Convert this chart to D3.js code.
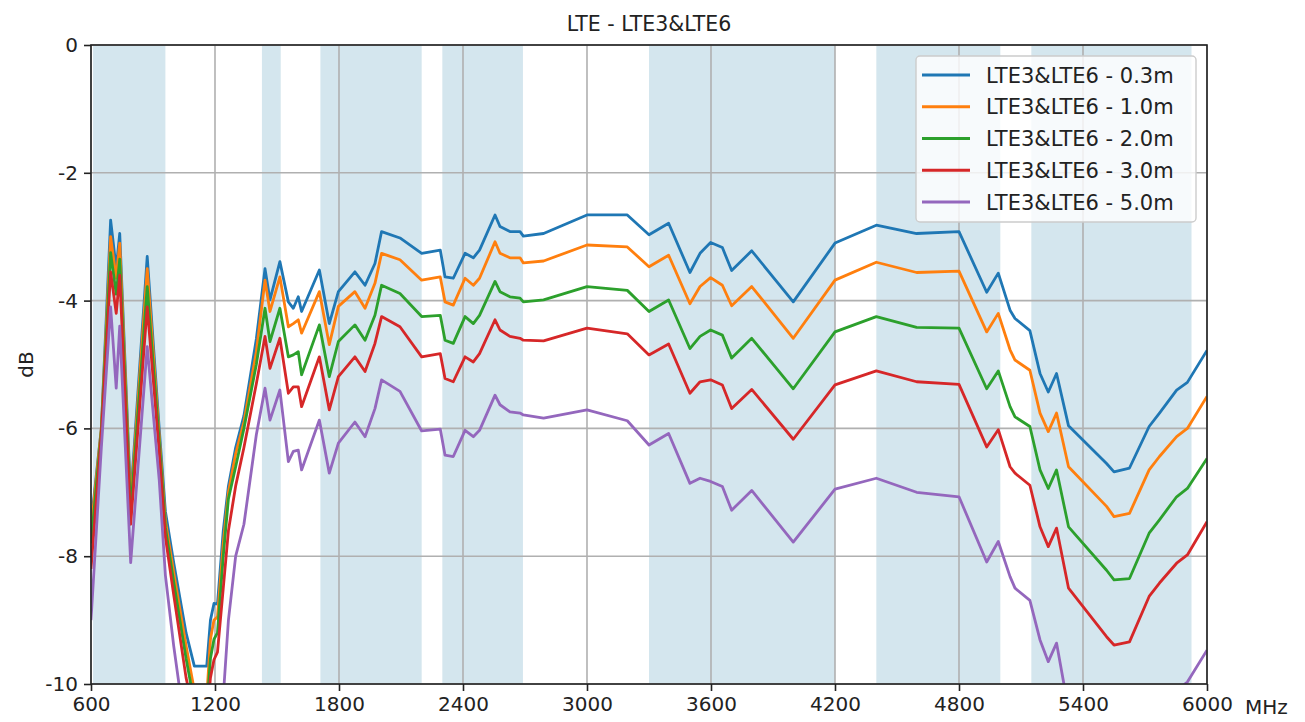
<!DOCTYPE html>
<html>
<head>
<meta charset="utf-8">
<script src="https://cdn.jsdelivr.net/npm/d3@7"></script>
<style>
  body { margin: 0; background: #fff; }
  text { font-family: "DejaVu Sans", sans-serif; fill: #222; }
</style>
</head>
<body>
<div id="chart"></div>
<script>
// frequencies (MHz) shared by all series
const freqs = [600, 650, 695, 722, 739, 792, 872, 930, 960, 1000, 1060, 1100, 1160, 1178, 1195, 1212,
  1240, 1265, 1300, 1340, 1400, 1442, 1466, 1514, 1555, 1579, 1603, 1619, 1705, 1753, 1797, 1877,
  1926, 1974, 2006, 2095, 2200, 2290, 2313, 2353, 2410, 2450, 2480, 2555, 2579, 2627, 2676, 2692,
  2790, 3000, 3195, 3300, 3395, 3498, 3547, 3598, 3655, 3700, 3797, 3998, 4200, 4400, 4595, 4800,
  4934, 4990, 5047, 5071, 5143, 5192, 5232, 5272, 5330, 5514, 5550, 5625, 5720, 5770, 5853, 5905, 6000];

const loss03 = [-7.5, -6.0, -2.74, -3.5, -2.95, -7.1, -3.31, -6.0, -7.3, -8.1, -9.2, -9.72, -9.72, -9.0, -8.74, -8.75,
  -7.6, -6.9, -6.3, -5.8, -4.6, -3.5, -3.99, -3.39, -4.02, -4.12, -3.94, -4.17, -3.52, -4.36, -3.86, -3.55,
  -3.76, -3.42, -2.92, -3.02, -3.26, -3.21, -3.63, -3.65, -3.26, -3.33, -3.21, -2.66, -2.84, -2.92, -2.92, -2.99,
  -2.95, -2.66, -2.66, -2.97, -2.79, -3.56, -3.26, -3.09, -3.17, -3.53, -3.22, -4.02, -3.10, -2.82, -2.95, -2.92,
  -3.87, -3.57, -4.15, -4.28, -4.47, -5.14, -5.43, -5.14, -5.96, -6.55, -6.68, -6.62, -5.97, -5.76, -5.40, -5.28, -4.78];

const loss10 = [-7.6, -6.0, -3.0, -3.65, -3.1, -7.2, -3.5, -6.1, -7.45, -8.25, -9.4, -10.1, -10.2, -9.3, -9.0, -8.95,
  -7.8, -7.0, -6.4, -5.9, -4.8, -3.68, -4.17, -3.63, -4.41, -4.36, -4.30, -4.51, -3.86, -4.69, -4.09, -3.86,
  -4.12, -3.73, -3.26, -3.36, -3.68, -3.63, -4.02, -4.07, -3.65, -3.76, -3.65, -3.08, -3.26, -3.33, -3.33, -3.41,
  -3.38, -3.13, -3.16, -3.47, -3.29, -4.05, -3.78, -3.64, -3.76, -4.08, -3.78, -4.59, -3.68, -3.40, -3.56, -3.54,
  -4.49, -4.20, -4.77, -4.93, -5.09, -5.76, -6.05, -5.76, -6.60, -7.22, -7.38, -7.33, -6.65, -6.44, -6.13, -6.0, -5.50];

const loss20 = [-7.8, -6.05, -3.25, -3.9, -3.35, -7.3, -3.78, -6.2, -7.55, -8.4, -9.6, -10.3, -10.4, -9.6, -9.3, -9.2,
  -8.0, -7.1, -6.6, -6.0, -5.0, -4.12, -4.64, -4.12, -4.88, -4.85, -4.80, -5.16, -4.38, -5.19, -4.64, -4.38,
  -4.62, -4.23, -3.76, -3.89, -4.25, -4.23, -4.62, -4.67, -4.25, -4.36, -4.23, -3.70, -3.86, -3.94, -3.96, -4.02,
  -3.99, -3.78, -3.84, -4.17, -3.99, -4.75, -4.56, -4.46, -4.54, -4.90, -4.59, -5.38, -4.49, -4.25, -4.42, -4.43,
  -5.38, -5.10, -5.66, -5.82, -5.97, -6.65, -6.94, -6.65, -7.54, -8.22, -8.37, -8.35, -7.64, -7.43, -7.07, -6.94, -6.47];

const loss30 = [-8.2, -6.1, -3.55, -4.2, -3.6, -7.5, -4.1, -6.35, -7.7, -8.6, -9.9, -10.5, -10.6, -9.9, -9.62, -9.5,
  -8.5, -7.6, -6.9, -6.3, -5.3, -4.56, -5.06, -4.59, -5.45, -5.35, -5.35, -5.66, -4.88, -5.71, -5.19, -4.88,
  -5.11, -4.67, -4.25, -4.41, -4.88, -4.83, -5.22, -5.27, -4.88, -4.96, -4.83, -4.30, -4.46, -4.56, -4.59, -4.62,
  -4.63, -4.43, -4.52, -4.85, -4.68, -5.45, -5.27, -5.24, -5.32, -5.69, -5.39, -6.17, -5.32, -5.10, -5.27, -5.31,
  -6.29, -6.02, -6.60, -6.70, -6.89, -7.54, -7.85, -7.56, -8.50, -9.26, -9.39, -9.34, -8.63, -8.42, -8.11, -7.98, -7.46];

const loss50 = [-9.0, -6.3, -4.1, -5.37, -4.4, -8.1, -4.72, -6.8, -8.3, -9.4, -10.8, -11.2, -11.2, -11.0, -10.8, -10.5,
  -10.2, -9.0, -8.0, -7.5, -6.1, -5.37, -5.87, -5.40, -6.52, -6.36, -6.34, -6.65, -5.87, -6.70, -6.23, -5.90,
  -6.13, -5.69, -5.24, -5.42, -6.04, -6.01, -6.42, -6.44, -6.03, -6.13, -6.03, -5.48, -5.63, -5.74, -5.76, -5.79,
  -5.84, -5.71, -5.88, -6.26, -6.08, -6.86, -6.78, -6.83, -6.91, -7.28, -6.97, -7.78, -6.95, -6.78, -7.0, -7.07,
  -8.09, -7.77, -8.32, -8.5, -8.69, -9.31, -9.65, -9.36, -10.4, -11.2, -11.35, -11.3, -10.6, -10.4, -10.1, -9.97, -9.47];

const seriesNames = ["LTE3&LTE6 - 0.3m", "LTE3&LTE6 - 1.0m", "LTE3&LTE6 - 2.0m", "LTE3&LTE6 - 3.0m", "LTE3&LTE6 - 5.0m"];
const seriesValues = [loss03, loss10, loss20, loss30, loss50];
const colors = ["#1f77b4", "#ff7f0e", "#2ca02c", "#d62728", "#9467bd"];

// LTE frequency bands shaded in the background
const bandStart = [610, 1427, 1710, 2300, 3300, 4400, 5150];
const bandEnd   = [960, 1518, 2200, 2690, 4200, 5000, 5925];

const xTicks = [600, 1200, 1800, 2400, 3000, 3600, 4200, 4800, 5400, 6000];
const yTicks = [0, -2, -4, -6, -8, -10];

const margin = {top: 45, right: 98, bottom: 38, left: 91},
    width = 1305 - margin.left - margin.right,
    height = 722 - margin.top - margin.bottom;

const svg = d3.select("#chart")
  .append("svg")
    .attr("width", 1305)
    .attr("height", 722);

const g = svg.append("g")
    .attr("transform", `translate(${margin.left}, ${margin.top})`);

const x = d3.scaleLinear().domain([600, 6000]).range([0, width]);
const y = d3.scaleLinear().domain([-10, 0]).range([height, 0]);

g.append("clipPath").attr("id", "plotclip")
  .append("rect").attr("width", width).attr("height", height);

// bands
g.selectAll(".band")
  .data(bandStart.map((s, i) => [s, bandEnd[i]]))
  .join("rect")
    .attr("class", "band")
    .attr("x", d => x(d[0]))
    .attr("width", d => x(d[1]) - x(d[0]))
    .attr("y", 0)
    .attr("height", height)
    .attr("fill", "#d4e6ee");

// grid
g.selectAll(".vgrid")
  .data(xTicks)
  .join("line")
    .attr("x1", d => x(d)).attr("x2", d => x(d))
    .attr("y1", 0).attr("y2", height)
    .attr("stroke", "#b0b0b0").attr("stroke-width", 1.6);
g.selectAll(".hgrid")
  .data(yTicks)
  .join("line")
    .attr("y1", d => y(d)).attr("y2", d => y(d))
    .attr("x1", 0).attr("x2", width)
    .attr("stroke", "#b0b0b0").attr("stroke-width", 1.6);

// lines
const line = d3.line()
  .x((d, i) => x(freqs[i]))
  .y(d => y(d));

g.append("g").attr("clip-path", "url(#plotclip)")
  .selectAll(".series")
  .data(seriesValues)
  .join("path")
    .attr("class", "series")
    .attr("d", d => line(d))
    .attr("fill", "none")
    .attr("stroke", (d, i) => colors[i])
    .attr("stroke-width", 2.8)
    .attr("stroke-linejoin", "round");

// axes
const xAxis = g.append("g")
  .attr("transform", `translate(0, ${height})`)
  .call(d3.axisBottom(x).tickValues(xTicks).tickFormat(d3.format("d")).tickSize(7).tickPadding(6));
const yAxis = g.append("g")
  .call(d3.axisLeft(y).tickValues(yTicks).tickFormat(d => d).tickSize(7).tickPadding(6));
[xAxis, yAxis].forEach(a => {
  a.select(".domain").remove();
  a.selectAll("text").style("font-size", "20px").style("font-family", "DejaVu Sans").attr("fill", "#222");
  a.selectAll("line").attr("stroke", "#222").attr("stroke-width", 1.6);
});

// frame
g.append("rect")
  .attr("width", width).attr("height", height)
  .attr("fill", "none").attr("stroke", "#222").attr("stroke-width", 1.6);

// title and labels
svg.append("text")
  .attr("x", margin.left + width / 2).attr("y", 31)
  .attr("text-anchor", "middle")
  .style("font-size", "20.5px")
  .text("LTE - LTE3&LTE6");

svg.append("text")
  .attr("x", margin.left + width + 38).attr("y", margin.top + height + 30)
  .attr("text-anchor", "start")
  .style("font-size", "20px")
  .text("MHz");

svg.append("text")
  .attr("transform", `translate(33, ${margin.top + height / 2}) rotate(-90)`)
  .attr("text-anchor", "middle")
  .style("font-size", "20px")
  .text("dB");

// legend
const legend = g.append("g").attr("transform", `translate(${916 - margin.left}, ${56 - margin.top})`);
legend.append("rect")
  .attr("width", 280).attr("height", 166)
  .attr("rx", 4)
  .attr("fill", "#fff").attr("fill-opacity", 0.8)
  .attr("stroke", "#ccc").attr("stroke-width", 1.4);
seriesNames.forEach((name, i) => {
  const row = legend.append("g").attr("transform", `translate(0, ${19 + i * 31.75})`);
  row.append("line")
    .attr("x1", 6).attr("x2", 54)
    .attr("stroke", colors[i]).attr("stroke-width", 2.8);
  row.append("text")
    .attr("x", 70).attr("y", 7.5)
    .style("font-size", "21px")
    .text(name);
});
</script>
</body>
</html>
